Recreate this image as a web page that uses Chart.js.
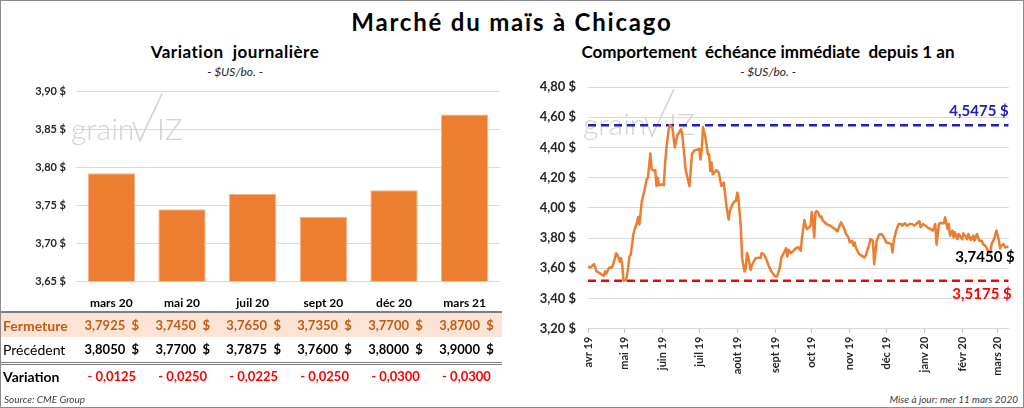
<!DOCTYPE html>
<html lang="fr">
<head>
<meta charset="utf-8">
<title>Marché du maïs à Chicago</title>
<script src="https://cdn.jsdelivr.net/npm/chart.js@4.4.1/dist/chart.umd.min.js"></script>
<style>
  html, body { margin: 0; padding: 0; background: #fff; }
  body { font-family: Lato, 'Liberation Sans', sans-serif; color: #000; }
  #frame { position: relative; width: 1024px; height: 408px; overflow: hidden; }
  #edge { position: absolute; left: 0; top: 0; right: 0; bottom: 0; border: 1px solid #8c8c8c; pointer-events: none; }
  .txt { position: absolute; white-space: pre; text-align: center; }
  #title { left: 0; top: 7px; width: 1024px; font-size: 24px; font-weight: bold; line-height: 30px; letter-spacing: 1.8px; }
  .subtitle { top: 42px; font-size: 17px; font-weight: bold; line-height: 20px; }
  .unit { top: 64px; font-size: 12px; font-style: italic; line-height: 16px; color: #262626; }
  .foot { top: 392px; font-size: 10px; font-style: italic; line-height: 14px; color: #404040; }
  #barBox { position: absolute; left: 0; top: 80px; width: 512px; height: 232px; }
  #lineBox { position: absolute; left: 512px; top: 80px; width: 512px; height: 300px; }
  #quotes { position: absolute; left: 0; top: 311px; width: 502px; border-collapse: collapse; table-layout: fixed; font-size: 13px; }
  #quotes th { text-align: left; padding: 0 0 0 3px; font-size: 14px; }
  #quotes td { text-align: center; padding: 0; font-weight: bold; white-space: pre; }
  #quotes tr.close { background: #fbe4d5; color: #c55a11; height: 25px; border-top: 2px solid #7f7f7f; }
  #quotes tr.prev { height: 26px; border-bottom: 3px double #7f7f7f; }
  #quotes tr.prev th { font-weight: normal; }
  #quotes tr.chg { height: 25px; }
  #quotes tr.chg td { color: #ff0000; }
</style>
</head>
<body>
<div id="frame">
  <div id="title" class="txt">Marché du maïs à Chicago</div>
  <div class="txt subtitle" style="left:0;width:470px;letter-spacing:0.5px;">Variation  journalière</div>
  <div class="txt unit" style="left:0;width:470px;">- $US/bo. -</div>
  <div class="txt subtitle" style="left:512px;width:512px;">Comportement  échéance immédiate  depuis 1 an</div>
  <div class="txt unit" style="left:512px;width:512px;">- $US/bo. -</div>

  <div id="barBox"><canvas id="barChart" width="512" height="232"></canvas></div>
  <div id="lineBox"><canvas id="lineChart" width="512" height="300"></canvas></div>

  <table id="quotes">
    <colgroup id="quoteCols"></colgroup>
    <tbody id="quoteBody"></tbody>
  </table>

  <div class="txt foot" style="left:4px;text-align:left;">Source: CME Group</div>
  <div class="txt foot" style="right:6px;text-align:right;">Mise à jour: mer 11 mars 2020</div>
  <div id="edge"></div>
</div>

<script>
// Contrats (graphique de gauche + tableau)
const contracts = ['mars 20', 'mai 20', 'juil 20', 'sept 20', 'déc 20', 'mars 21'];
const closing = [3.7925, 3.7450, 3.7650, 3.7350, 3.7700, 3.8700];
const previous = [3.8050, 3.7700, 3.7875, 3.7600, 3.8000, 3.9000];
const change = [-0.0125, -0.0250, -0.0225, -0.0250, -0.0300, -0.0300];

// Echéance immédiate depuis 1 an (graphique de droite)
const priceDates = [
  '2019-04-01','2019-04-03','2019-04-06','2019-04-08','2019-04-12','2019-04-14','2019-04-15','2019-04-16',
  '2019-04-18','2019-04-21','2019-04-23','2019-04-24','2019-04-25','2019-04-27','2019-04-28','2019-04-29',
  '2019-04-30','2019-05-02','2019-05-03','2019-05-05','2019-05-06','2019-05-08','2019-05-09','2019-05-11',
  '2019-05-12','2019-05-13','2019-05-15','2019-05-17','2019-05-19','2019-05-20','2019-05-22','2019-05-23',
  '2019-05-25','2019-05-26','2019-05-27','2019-05-28','2019-05-29','2019-05-31','2019-06-02','2019-06-03',
  '2019-06-04','2019-06-06','2019-06-07','2019-06-09','2019-06-11','2019-06-13','2019-06-16','2019-06-17',
  '2019-06-20','2019-06-23','2019-06-25','2019-06-27','2019-07-01','2019-07-02','2019-07-03','2019-07-04',
  '2019-07-06','2019-07-08','2019-07-09','2019-07-10','2019-07-11','2019-07-12','2019-07-15','2019-07-17',
  '2019-07-19','2019-07-21','2019-07-22','2019-07-23','2019-07-25','2019-07-26','2019-07-28','2019-07-30',
  '2019-07-31','2019-08-01','2019-08-02','2019-08-04','2019-08-05','2019-08-07','2019-08-08','2019-08-09',
  '2019-08-10','2019-08-11','2019-08-12','2019-08-13','2019-08-16','2019-08-19','2019-08-20','2019-08-21',
  '2019-08-23','2019-08-25','2019-08-27','2019-08-29','2019-08-31','2019-09-02','2019-09-03','2019-09-05',
  '2019-09-06','2019-09-08','2019-09-10','2019-09-11','2019-09-12','2019-09-14','2019-09-16','2019-09-18',
  '2019-09-20','2019-09-22','2019-09-23','2019-09-25','2019-09-26','2019-09-27','2019-09-29','2019-09-30',
  '2019-10-01','2019-10-02','2019-10-03','2019-10-04','2019-10-05','2019-10-06','2019-10-08','2019-10-09',
  '2019-10-10','2019-10-13','2019-10-16','2019-10-18','2019-10-20','2019-10-22','2019-10-24','2019-10-25',
  '2019-10-27','2019-10-29','2019-10-31','2019-11-01','2019-11-03','2019-11-04','2019-11-05','2019-11-06',
  '2019-11-08','2019-11-09','2019-11-11','2019-11-13','2019-11-14','2019-11-17','2019-11-18','2019-11-20',
  '2019-11-21','2019-11-23','2019-11-25','2019-11-27','2019-11-29','2019-12-01','2019-12-03','2019-12-05',
  '2019-12-06','2019-12-07','2019-12-09','2019-12-11','2019-12-13','2019-12-14','2019-12-16','2019-12-18',
  '2019-12-20','2019-12-22','2019-12-24','2019-12-26','2019-12-28','2019-12-29','2019-12-31','2020-01-02',
  '2020-01-04','2020-01-06','2020-01-08','2020-01-10','2020-01-11','2020-01-13','2020-01-14','2020-01-17',
  '2020-01-18','2020-01-20','2020-01-21','2020-01-22','2020-01-24','2020-01-25','2020-01-26','2020-01-28',
  '2020-01-29','2020-01-31','2020-02-01','2020-02-02','2020-02-04','2020-02-05','2020-02-06','2020-02-08',
  '2020-02-10','2020-02-11','2020-02-13','2020-02-15','2020-02-17','2020-02-18','2020-02-20','2020-02-22',
  '2020-02-24','2020-02-25','2020-02-27','2020-02-29','2020-03-02','2020-03-03','2020-03-04','2020-03-06',
  '2020-03-07','2020-03-10'
];
const nearbyPrices = [
  3.610, 3.605, 3.627, 3.580, 3.560, 3.550, 3.580, 3.565,
  3.600, 3.610, 3.667, 3.700, 3.690, 3.644, 3.667, 3.620,
  3.5175, 3.520, 3.556, 3.680, 3.690, 3.820, 3.855, 3.900,
  3.940, 3.890, 4.044, 4.110, 4.190, 4.200, 4.360, 4.256,
  4.244, 4.250, 4.144, 4.200, 4.150, 4.155, 4.150, 4.290,
  4.390, 4.520, 4.5475, 4.530, 4.400, 4.480, 4.520, 4.490,
  4.244, 4.144, 4.355, 4.380, 4.390, 4.320, 4.380, 4.535,
  4.467, 4.355, 4.355, 4.244, 4.300, 4.222, 4.250, 4.233,
  4.144, 4.167, 4.100, 4.022, 3.922, 3.980, 4.022, 4.044,
  4.044, 4.100, 4.067, 3.867, 3.667, 3.578, 3.600, 3.700,
  3.678, 3.633, 3.589, 3.620, 3.667, 3.670, 3.667, 3.700,
  3.690, 3.656, 3.611, 3.578, 3.556, 3.544, 3.556, 3.611,
  3.667, 3.700, 3.733, 3.678, 3.722, 3.700, 3.715, 3.733,
  3.740, 3.716, 3.804, 3.920, 3.882, 3.860, 3.871, 3.882,
  3.971, 3.904, 3.804, 3.971, 3.978, 3.971, 3.938, 3.942,
  3.916, 3.893, 3.882, 3.871, 3.860, 3.844, 3.889, 3.904,
  3.871, 3.827, 3.804, 3.771, 3.782, 3.749, 3.771, 3.738,
  3.704, 3.693, 3.682, 3.671, 3.682, 3.760, 3.793, 3.782,
  3.627, 3.782, 3.822, 3.827, 3.804, 3.771, 3.767, 3.760,
  3.704, 3.782, 3.849, 3.893, 3.893, 3.882, 3.898, 3.882,
  3.893, 3.893, 3.882, 3.898, 3.911, 3.871, 3.893, 3.882,
  3.867, 3.860, 3.849, 3.893, 3.756, 3.893, 3.900, 3.898,
  3.938, 3.860, 3.893, 3.816, 3.849, 3.804, 3.838, 3.793,
  3.827, 3.804, 3.793, 3.831, 3.809, 3.793, 3.827, 3.787,
  3.816, 3.782, 3.827, 3.782, 3.782, 3.760, 3.749, 3.716,
  3.704, 3.760, 3.793, 3.850, 3.782, 3.733, 3.749, 3.760,
  3.738, 3.745
];
const highPrice = 4.5475;
const lowPrice = 3.5175;
const lastPrice = 3.7450;

const monthTickDates = ['2019-04-01','2019-05-01','2019-06-01','2019-07-01','2019-08-01','2019-09-01',
  '2019-10-01','2019-11-01','2019-12-01','2020-01-01','2020-02-01','2020-03-01'];
const monthLabels = ['avr 19','mai 19','juin 19','juil 19','août 19','sept 19',
  'oct 19','nov 19','déc 19','janv 20','févr 20','mars 20'];

const ORANGE = '#ed7d31';
const BLUE = '#2020b8';
const RED = '#ff0000';
const FONT = 'Lato, "Liberation Sans", sans-serif';

const fmt2 = v => v.toFixed(2).replace('.', ',') + ' $';
const fmt4 = v => v.toFixed(4).replace('.', ',');

function dayIndex(s) {
  const [y, m, d] = s.split('-').map(Number);
  return (Date.UTC(y, m - 1, d) - Date.UTC(2019, 3, 1)) / 86400000;
}

// y axis: fixed width, no extra room reserved for the edge labels
function fixY(width) {
  return s => { s.width = width; s.paddingTop = 0; s.paddingBottom = 0; };
}

// ---- tableau sous le graphique à barres ----
const cols = document.getElementById('quoteCols');
cols.innerHTML = '<col style="width:76px">' + contracts.map(() => '<col style="width:70.67px">').join('');
const body = document.getElementById('quoteBody');
const rows = [
  ['close', 'Fermeture', closing.map(v => fmt4(v) + '  $')],
  ['prev', 'Précédent', previous.map(v => fmt4(v) + '  $')],
  ['chg', 'Variation', change.map(v => (v < 0 ? '- ' : '+ ') + fmt4(Math.abs(v)))]
];
rows.forEach(([cls, name, cells]) => {
  const tr = document.createElement('tr');
  tr.className = cls;
  tr.innerHTML = `<th>${name}</th>` + cells.map(c => `<td>${c}</td>`).join('');
  body.appendChild(tr);
});

// filigrane grainViz
function watermark(ctx, area) {
  const x = area.left, y = area.top;
  ctx.save();
  ctx.fillStyle = '#d3d3d3';
  ctx.strokeStyle = '#d3d3d3';
  ctx.font = '300 30px ' + FONT;
  ctx.textBaseline = 'alphabetic';
  ctx.fillText('grain', x - 5, y + 48);
  ctx.lineWidth = 1.6;
  ctx.beginPath();
  ctx.moveTo(x + 57, y + 30);
  ctx.lineTo(x + 64, y + 49);
  ctx.lineTo(x + 86, y + 2);
  ctx.stroke();
  ctx.fillText('IZ', x + 81, y + 48);
  ctx.restore();
}

const watermarkPlugin = {
  id: 'watermark',
  beforeDatasetsDraw(chart) { watermark(chart.ctx, chart.chartArea); }
};

Chart.defaults.font.family = FONT;
Chart.defaults.animation = false;

// ---- Variation journalière ----
new Chart(document.getElementById('barChart'), {
  type: 'bar',
  data: {
    labels: contracts,
    datasets: [{
      data: closing,
      backgroundColor: ORANGE,
      borderColor: '#f6b58a',
      borderWidth: 1,
      barPercentage: 0.67,
      categoryPercentage: 1.0
    }]
  },
  options: {
    responsive: false,
    layout: { padding: { top: 11.7, right: 12, left: 0, bottom: 0 } },
    plugins: { legend: { display: false }, tooltip: { enabled: false } },
    scales: {
      x: {
        grid: { display: false },
        border: { display: false },
        ticks: { font: { size: 12, weight: 'bold' }, color: '#000', padding: 7 },
        afterFit: s => { s.height = 30.7; }
      },
      y: {
        min: 3.65,
        max: 3.90,
        ticks: { stepSize: 0.05, callback: v => fmt2(v), font: { size: 11, weight: 'bold' }, color: '#262626', padding: 10 },
        grid: { color: '#d9d9d9', drawTicks: false },
        border: { display: false },
        afterFit: fixY(76)
      }
    }
  },
  plugins: [watermarkPlugin]
});

// ---- Comportement échéance immédiate ----
const lastDay = dayIndex(priceDates[priceDates.length - 1]);
const monthStarts = monthTickDates.map(dayIndex);
const series = priceDates.map((d, i) => ({ x: dayIndex(d), y: nearbyPrices[i] }));

const refLabels = {
  id: 'refLabels',
  afterDatasetsDraw(chart) {
    const { ctx, chartArea, scales: { y } } = chart;
    ctx.save();
    ctx.font = 'bold 15px ' + FONT;
    ctx.textAlign = 'right';
    ctx.textBaseline = 'middle';
    ctx.fillStyle = BLUE;
    ctx.fillText(fmt4(highPrice) + ' $', chartArea.right, y.getPixelForValue(highPrice) - 14);
    ctx.fillStyle = RED;
    ctx.fillText(fmt4(lowPrice) + ' $', chartArea.right + 3, y.getPixelForValue(lowPrice) + 13);
    ctx.fillStyle = '#000';
    ctx.fillText(fmt4(lastPrice) + ' $', chartArea.right + 6, y.getPixelForValue(lastPrice) + 11);
    ctx.restore();
  }
};

new Chart(document.getElementById('lineChart'), {
  type: 'line',
  data: {
    datasets: [
      { data: series, borderColor: ORANGE, borderWidth: 2.5, borderJoinStyle: 'round', pointRadius: 0, tension: 0 },
      { data: [{ x: 0, y: highPrice }, { x: lastDay, y: highPrice }], borderColor: BLUE, borderWidth: 2.5, borderDash: [8, 5], pointRadius: 0 },
      { data: [{ x: 0, y: lowPrice }, { x: lastDay, y: lowPrice }], borderColor: RED, borderWidth: 2.5, borderDash: [8, 5], pointRadius: 0 }
    ]
  },
  options: {
    responsive: false,
    layout: { padding: { top: 7, right: 15.3, left: 0, bottom: 0 } },
    plugins: { legend: { display: false }, tooltip: { enabled: false } },
    scales: {
      x: {
        type: 'linear',
        min: 0,
        max: lastDay,
        afterBuildTicks: s => { s.ticks = monthStarts.map(v => ({ value: v })); },
        ticks: {
          autoSkip: false,
          minRotation: 90,
          maxRotation: 90,
          callback: (v, i) => monthLabels[i],
          font: { size: 11, weight: 'bold' },
          color: '#262626',
          padding: 4
        },
        grid: { drawOnChartArea: false, color: '#bfbfbf', tickLength: 4 },
        border: { color: '#d9d9d9' },
        afterFit: s => { s.height = 51.3; }
      },
      y: {
        min: 3.2,
        max: 4.8,
        ticks: { stepSize: 0.2, callback: v => fmt2(v), font: { size: 13, weight: 'bold' }, color: '#262626', padding: 12 },
        grid: { color: '#d9d9d9', drawTicks: false },
        border: { display: false },
        afterFit: fixY(76)
      }
    }
  },
  plugins: [watermarkPlugin, refLabels]
});
</script>
</body>
</html>
